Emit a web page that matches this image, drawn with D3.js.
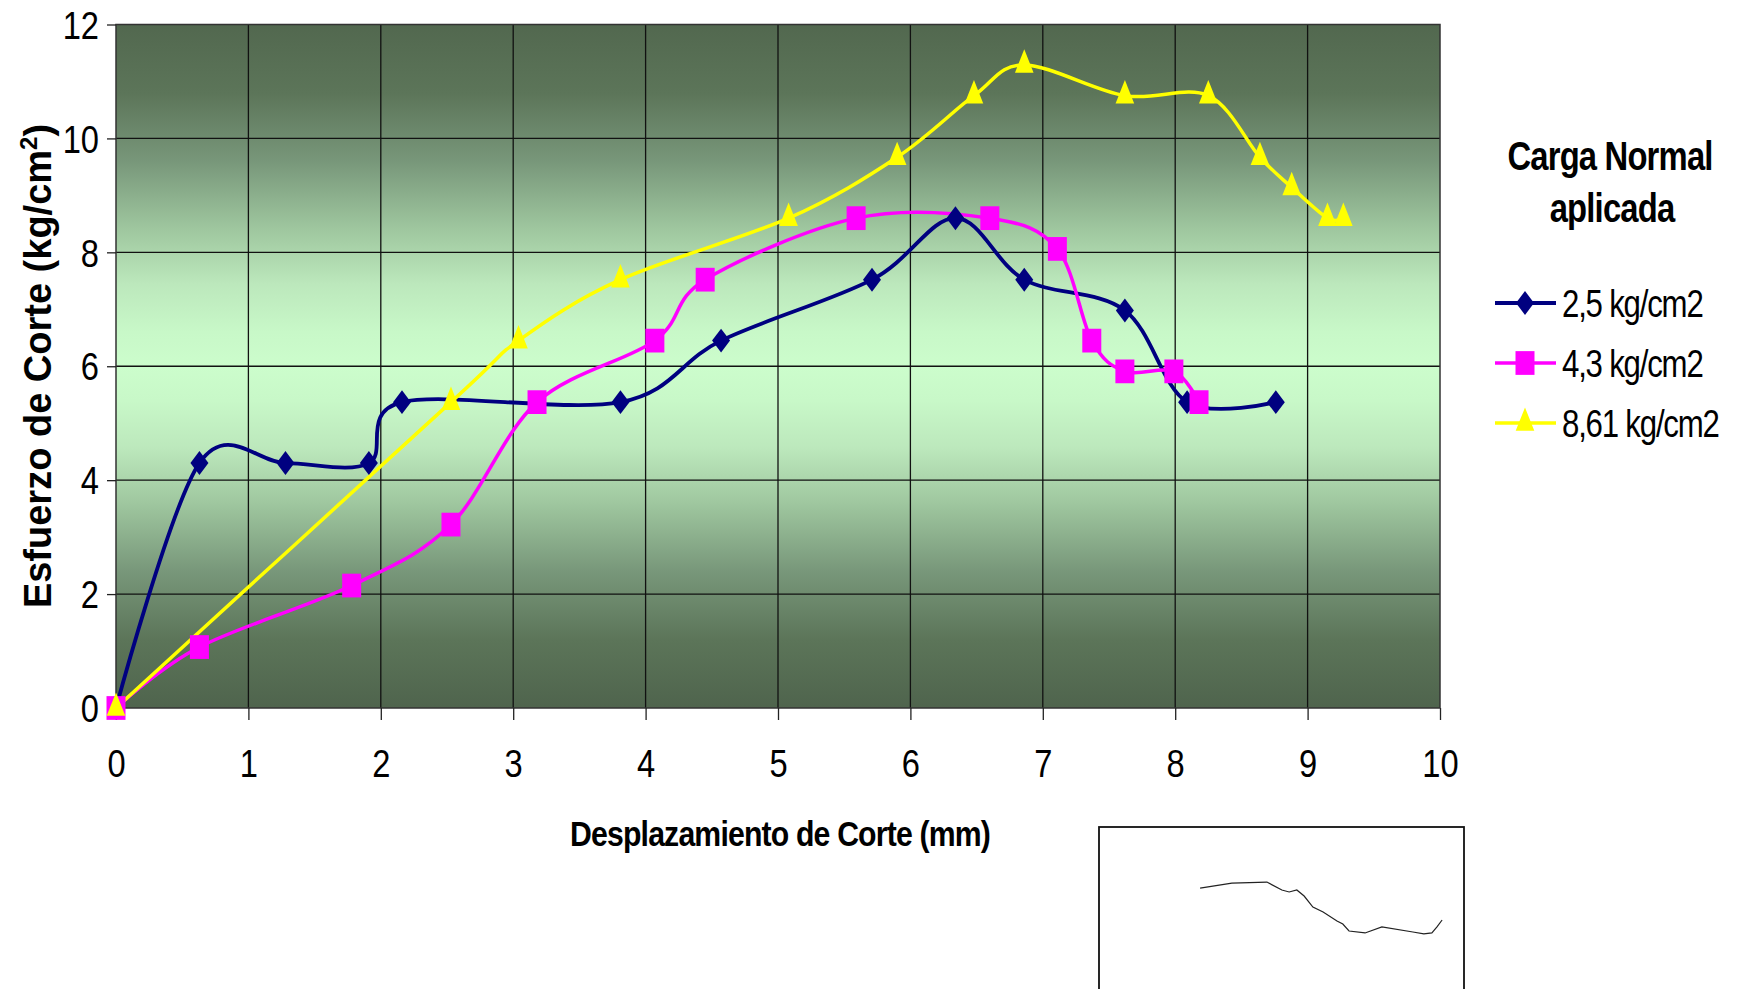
<!DOCTYPE html>
<html>
<head>
<meta charset="utf-8">
<script src="https://cdn.jsdelivr.net/npm/d3@7"></script>
<style>
  body { margin: 0; background: #fff; }
  text { font-family: "Liberation Sans", Arial, sans-serif; fill: #000; }
</style>
</head>
<body>
<div class="chart"></div>
<script>
// data
const xTicks = [0, 1, 2, 3, 4, 5, 6, 7, 8, 9, 10];
const yTicks = [0, 2, 4, 6, 8, 10, 12];
const seriesNames = ["2,5 kg/cm2", "4,3 kg/cm2", "8,61 kg/cm2"];

const blueX = [0, 0.63, 1.28, 1.91, 2.16, 3.81, 4.57, 5.71, 6.34, 6.86, 7.62, 8.09, 8.76];
const blueY = [0, 4.30, 4.30, 4.30, 5.37, 5.37, 6.45, 7.52, 8.60, 7.52, 6.98, 5.37, 5.37];

const pinkX = [0, 0.63, 1.78, 2.53, 3.18, 4.07, 4.45, 5.59, 6.60, 7.11, 7.37, 7.62, 7.99, 8.18];
const pinkY = [0, 1.07, 2.15, 3.22, 5.37, 6.45, 7.52, 8.60, 8.60, 8.06, 6.45, 5.91, 5.91, 5.37];

const yellowX = [0, 2.53, 3.04, 3.81, 5.08, 5.90, 6.48, 6.86, 7.62, 8.25, 8.64, 8.88, 9.15, 9.27];
const yellowY = [0, 5.37, 6.45, 7.52, 8.60, 9.67, 10.75, 11.29, 10.75, 10.75, 9.67, 9.14, 8.60, 8.60];

// stray sketch in the box under the chart (box units 0-100)
const sketchX = [27.7, 36.4, 46.0, 50.1, 52.1, 54.2, 56.2, 58.6, 61.4, 65.2, 66.8, 68.5, 72.9, 77.5, 86.0, 89.0, 91.2, 92.6, 94.0];
const sketchY = [37.7, 34.6, 34.0, 38.9, 40.1, 38.9, 42.6, 49.4, 52.5, 58.0, 59.9, 64.2, 65.4, 61.7, 64.8, 66.0, 65.4, 61.7, 57.4];

const W = 1745, H = 989;
let margin = { top: 24.5, left: 116 };
let width = 1324;
let height = 683.5;
const squeeze = 0.86;

let root = d3
  .select(".chart")
  .append("svg")
  .attr("width", W)
  .attr("height", H);

let defs = root.append("defs");
let grad = defs
  .append("linearGradient")
  .attr("id", "bg")
  .attr("x1", 0).attr("y1", 0)
  .attr("x2", 0).attr("y2", 1);
[
  [0, "#52684f"],
  [0.1, "#5c7559"],
  [0.2, "#78977a"],
  [0.3, "#9fc79f"],
  [0.38, "#bce8bc"],
  [0.45, "#c8f8c8"],
  [0.5, "#ccfdcc"],
  [0.55, "#c8f8c8"],
  [0.62, "#bce8bc"],
  [0.7, "#9fc79f"],
  [0.8, "#78977a"],
  [0.9, "#5c7559"],
  [1, "#4f644d"]
].forEach(s => grad.append("stop").attr("offset", s[0]).attr("stop-color", s[1]));

let svg = root
  .append("g")
  .attr("transform", `translate(${margin.left}, ${margin.top})`);

const xScale = d3.scaleLinear().domain([0, 10]).range([0, width]);
const yScale = d3.scaleLinear().domain([0, 12]).range([height, 0]);

svg
  .append("rect")
  .attr("width", width)
  .attr("height", height)
  .attr("fill", "url(#bg)");

// grid
svg
  .selectAll(".vgrid")
  .data(xTicks.slice(1, -1))
  .enter()
  .append("line")
  .attr("x1", d => xScale(d))
  .attr("x2", d => xScale(d))
  .attr("y1", 0)
  .attr("y2", height)
  .style("stroke", "#111")
  .style("stroke-width", 1.3);

svg
  .selectAll(".hgrid")
  .data(yTicks.slice(1, -1))
  .enter()
  .append("line")
  .attr("x1", 0)
  .attr("x2", width)
  .attr("y1", d => yScale(d))
  .attr("y2", d => yScale(d))
  .style("stroke", "#111")
  .style("stroke-width", 1.3);

svg
  .append("rect")
  .attr("width", width)
  .attr("height", height)
  .attr("fill", "none")
  .style("stroke", "#333")
  .style("stroke-width", 1.5);

// axes
let xAxis = svg
  .append("g")
  .attr("transform", `translate(0, ${height})`)
  .call(d3.axisBottom(xScale).tickValues(xTicks).tickSize(12).tickPadding(30).tickFormat(d3.format("d")));

let yAxis = svg
  .append("g")
  .call(d3.axisLeft(yScale).tickValues(yTicks).tickSize(9).tickPadding(8).tickFormat(d3.format("d")));

[xAxis, yAxis].forEach(a => {
  a.select(".domain").remove();
  a.selectAll(".tick line").style("stroke", "#222").style("stroke-width", 1.3);
  a.selectAll(".tick text")
    .style("font-size", "38px")
    .style("fill", "#000");
});
xAxis.selectAll(".tick text").attr("transform", `scale(${squeeze},1)`);
yAxis.selectAll(".tick text")
  .attr("x", -17 / squeeze)
  .attr("dy", "0.36em")
  .attr("transform", `scale(${squeeze},1)`);

// titles
root
  .append("text")
  .attr("transform", "translate(51, 366) rotate(-90)")
  .attr("text-anchor", "middle")
  .style("font-size", "38px")
  .style("font-weight", "bold")
  .call(t => {
    t.append("tspan").text("Esfuerzo de Corte (kg/cm");
    t.append("tspan").attr("dy", -14).style("font-size", "24px").text("2");
    t.append("tspan").attr("dy", 14).text(")");
  });

root
  .append("text")
  .attr("transform", "translate(780, 846) scale(0.84,1)")
  .attr("text-anchor", "middle")
  .attr("letter-spacing", -1)
  .style("font-size", "36px")
  .style("font-weight", "bold")
  .text("Desplazamiento de Corte (mm)");

// series: markers are drawn stretched a bit taller than wide, as in the picture
const series = [
  { name: seriesNames[0], xs: blueX, ys: blueY, color: "#000080", width: 3.8, symbol: d3.symbolDiamond, size: 166, sx: 1.3, sy: 1 },
  { name: seriesNames[1], xs: pinkX, ys: pinkY, color: "#ff00ff", width: 3.5, symbol: d3.symbolSquare, size: 361, sx: 1, sy: 1.25 },
  { name: seriesNames[2], xs: yellowX, ys: yellowY, color: "#ffff00", width: 3.5, symbol: d3.symbolTriangle, size: 150, sx: 1, sy: 1.45 }
];

const line = d3
  .line()
  .x(d => xScale(d[0]))
  .y(d => yScale(d[1]))
  .curve(d3.curveCatmullRom.alpha(0));

series.forEach(s => {
  const pts = s.xs.map((x, i) => [x, s.ys[i]]);
  svg
    .append("path")
    .attr("d", line(pts))
    .style("fill", "none")
    .style("stroke", s.color)
    .style("stroke-width", s.width);
  s.pts = pts;
});

series.forEach(s => {
  svg
    .selectAll(null)
    .data(s.pts)
    .enter()
    .append("path")
    .attr("d", d3.symbol().type(s.symbol).size(s.size))
    .attr("transform", d => `translate(${xScale(d[0])}, ${yScale(d[1])}) scale(${s.sx},${s.sy})`)
    .style("fill", s.color);
});

// legend
let legend = root.append("g");
legend
  .append("text")
  .attr("transform", "translate(1610, 170) scale(0.82,1)")
  .attr("text-anchor", "middle")
  .attr("letter-spacing", -1)
  .style("font-size", "40px")
  .style("font-weight", "bold")
  .text("Carga Normal");
legend
  .append("text")
  .attr("transform", "translate(1612, 222) scale(0.82,1)")
  .attr("text-anchor", "middle")
  .attr("letter-spacing", -1)
  .style("font-size", "40px")
  .style("font-weight", "bold")
  .text("aplicada");

const legendY = d3.scalePoint().domain(seriesNames).range([303, 423]);

let items = legend
  .selectAll(".item")
  .data(series)
  .enter()
  .append("g")
  .attr("transform", d => `translate(0, ${legendY(d.name)})`);

items
  .append("line")
  .attr("x1", 1495)
  .attr("x2", 1556)
  .style("stroke", d => d.color)
  .style("stroke-width", d => d.width);

items
  .append("path")
  .attr("d", d => d3.symbol().type(d.symbol).size(d.size)())
  .attr("transform", d => `translate(1525, 0) scale(${d.sx},${d.sy})`)
  .style("fill", d => d.color);

items
  .append("text")
  .attr("transform", "translate(1562, 14) scale(0.8,1)")
  .attr("letter-spacing", -1.5)
  .style("font-size", "39px")
  .text(d => d.name);

// box with sketch under the chart
const boxX = d3.scaleLinear().domain([0, 100]).range([1099, 1464]);
const boxY = d3.scaleLinear().domain([0, 100]).range([827, 989]);

root
  .append("rect")
  .attr("x", boxX(0))
  .attr("y", boxY(0))
  .attr("width", boxX(100) - boxX(0))
  .attr("height", 200)
  .attr("fill", "#fff")
  .style("stroke", "#111")
  .style("stroke-width", 1.8);

root
  .append("path")
  .attr("d", d3.line().x((d, i) => boxX(sketchX[i])).y(d => boxY(d))(sketchY))
  .style("fill", "none")
  .style("stroke", "#222")
  .style("stroke-width", 1.2);
</script>
</body>
</html>
